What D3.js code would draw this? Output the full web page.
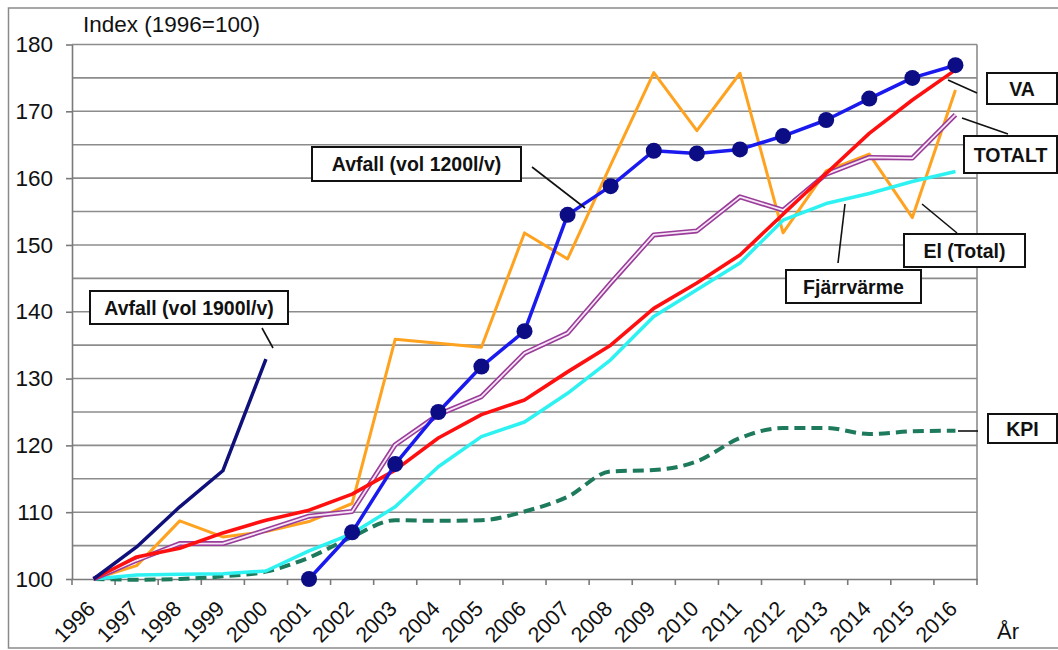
<!DOCTYPE html>
<html>
<head>
<meta charset="utf-8">
<script src="https://cdn.jsdelivr.net/npm/d3@7"></script>
<style>
  html, body { margin: 0; padding: 0; background: #fff; }
  svg { display: block; font-family: "Liberation Sans", Arial, sans-serif; }
</style>
</head>
<body>
<svg id="chart" width="1058" height="650"></svg>
<script>
// ---- data ----
const years = ["1996","1997","1998","1999","2000","2001","2002","2003","2004","2005","2006",
               "2007","2008","2009","2010","2011","2012","2013","2014","2015","2016"];
const yTicks = [100, 110, 120, 130, 140, 150, 160, 170, 180];

const avfall1900 = [100, 104.8, 110.8, 116.2, 132.9];
const avfall1200 = [null, null, null, null, null, 100, 107.0, 117.2, 125.0, 131.8, 137.1,
                    154.5, 158.8, 164.1, 163.7, 164.3, 166.3, 168.7, 171.9, 175.0, 176.9];
const elTotal    = [100, 102.0, 108.7, 106.3, 107.1, 108.6, 111.3, 135.9, 135.3, 134.7, 151.8,
                    147.9, 162.0, 175.8, 167.1, 175.7, 151.8, 161.1, 163.6, 154.1, 173.2];
const va         = [100, 103.3, 104.6, 106.9, 108.8, 110.3, 112.7, 116.3, 121.1, 124.6, 126.8,
                    131.0, 135.0, 140.5, 144.3, 148.5, 154.6, 160.7, 166.7, 171.7, 176.2];
const totalt     = [100, 102.8, 105.3, 105.3, 107.3, 109.4, 110.1, 120.1, 124.6, 127.3, 133.8,
                    136.8, 144.3, 151.5, 152.1, 157.2, 155.2, 160.6, 163.1, 163.0, 169.5];
const fjarrvarme = [100, 100.6, 100.7, 100.8, 101.2, 104.2, 106.8, 110.8, 116.8, 121.3, 123.5,
                    127.8, 132.8, 139.3, 143.3, 147.3, 153.7, 156.2, 157.7, 159.5, 161.0];
const kpi        = [100, 99.9, 100.0, 100.4, 101.1, 103.2, 106.3, 108.8, 108.7, 108.8, 110.1,
                    112.3, 116.1, 116.3, 117.6, 121.1, 122.6, 122.6, 121.7, 122.1, 122.2];

const yTitle = "Index (1996=100)";
const xTitle = "År";
const labelTexts = ["Avfall (vol 1900l/v)", "Avfall (vol 1200l/v)", "VA", "TOTALT", "El (Total)", "Fjärrvärme", "KPI"];

// ---- layout ----
const svg = d3.select("#chart");
const L = 72, R = 977, T = 44.5, B = 579;
const x = d3.scaleBand().domain(years).range([L, R]).padding(0);
const y = d3.scaleLinear().domain([100, 180]).range([B, T]);
const cx = yr => x(yr) + x.bandwidth() / 2;

// outer frame
svg.append("rect").attr("x", 8.5).attr("y", 8).attr("width", 1100).attr("height", 640)
  .attr("fill", "#fff").attr("stroke", "#8a8a8a").attr("stroke-width", 1.5);

// gridlines every 5
const grid = svg.append("g");
grid.selectAll("line").data(d3.range(105, 181, 5)).join("line")
  .attr("x1", L).attr("x2", R).attr("y1", d => y(d)).attr("y2", d => y(d))
  .attr("stroke", "#8c8c8c").attr("stroke-width", 1.6);
// right border of plot
svg.append("line").attr("x1", R).attr("x2", R).attr("y1", y(180)).attr("y2", y(100))
  .attr("stroke", "#8c8c8c").attr("stroke-width", 1.6);

// y axis
const yAxis = svg.append("g").attr("transform", `translate(${L},0)`)
  .call(d3.axisLeft(y).tickValues(yTicks).tickSize(6).tickSizeOuter(0).tickPadding(13));
yAxis.select(".domain").attr("stroke", "#7a7a7a").attr("stroke-width", 1.6);
yAxis.selectAll(".tick line").attr("stroke", "#7a7a7a").attr("stroke-width", 1.6);
yAxis.selectAll(".tick text").attr("font-size", 22.5).attr("fill", "#111")
  .attr("font-family", "Liberation Sans, Arial, sans-serif");

// x axis
const xAxis = svg.append("g").attr("transform", `translate(0,${B})`)
  .call(d3.axisBottom(x).tickSize(0).tickSizeOuter(0));
xAxis.select(".domain").attr("stroke", "#7a7a7a").attr("stroke-width", 1.6);
xAxis.selectAll(".tick text")
  .attr("font-size", 21.5).attr("fill", "#111").attr("font-family", "Liberation Sans, Arial, sans-serif")
  .attr("text-anchor", "end").attr("y", 0).attr("dy", 0)
  .attr("transform", "translate(3,31) rotate(-45)");
// boundary ticks
const bounds = years.map(d => x(d)).concat([R]);
xAxis.selectAll(".btick").data(bounds).join("line").attr("class", "btick")
  .attr("x1", d => d).attr("x2", d => d).attr("y1", 0).attr("y2", 6)
  .attr("stroke", "#7a7a7a").attr("stroke-width", 1.6);

// titles
svg.append("text").attr("x", 83).attr("y", 32).attr("font-size", 22.5).attr("fill", "#111").text(yTitle);
svg.append("text").attr("x", 997).attr("y", 639).attr("font-size", 22).attr("fill", "#111").text(xTitle);

// lines
const line = d3.line().defined(d => d.v != null).x(d => cx(d.yr)).y(d => y(d.v));
const smooth = d3.line().defined(d => d.v != null).x(d => cx(d.yr)).y(d => y(d.v)).curve(d3.curveMonotoneX);
const pts = arr => arr.map((v, i) => ({ yr: years[i], v }));
const g = svg.append("g").attr("fill", "none").attr("stroke-linejoin", "round");

g.append("path").attr("d", smooth(pts(kpi))).attr("stroke", "#1d7a5c").attr("stroke-width", 4)
  .attr("stroke-dasharray", "11,6");
g.append("path").attr("d", line(pts(elTotal))).attr("stroke", "#ffa21f").attr("stroke-width", 3);
g.append("path").attr("d", line(pts(fjarrvarme))).attr("stroke", "#2ef2f2").attr("stroke-width", 3.5);
g.append("path").attr("d", line(pts(totalt))).attr("stroke", "#9a3c9a").attr("stroke-width", 5);
g.append("path").attr("d", line(pts(totalt))).attr("stroke", "#f6e6f6").attr("stroke-width", 1.8);
g.append("path").attr("d", line(pts(va))).attr("stroke", "#ff1010").attr("stroke-width", 3.6);
g.append("path").attr("d", line(pts(avfall1900))).attr("stroke", "#10107a").attr("stroke-width", 3.5);
g.append("path").attr("d", line(pts(avfall1200))).attr("stroke", "#1a1aee").attr("stroke-width", 3.5);
svg.append("g").selectAll("circle").data(pts(avfall1200).filter(d => d.v != null)).join("circle")
  .attr("cx", d => cx(d.yr)).attr("cy", d => y(d.v)).attr("r", 8).attr("fill", "#0c0c84");

// annotation boxes (layout)
const boxes = [
  { t: 0, x: 90,  y: 291, w: 198, h: 33, lx1: 262, ly1: 328, lx2: 273, ly2: 348 },
  { t: 1, x: 312, y: 147, w: 209, h: 34, lx1: 532, ly1: 167, lx2: 585, ly2: 208 },
  { t: 2, x: 987, y: 73,  w: 70,  h: 31, lx1: 948, ly1: 80,  lx2: 977, ly2: 93 },
  { t: 3, x: 964, y: 136, w: 93,  h: 37, lx1: 962, ly1: 118, lx2: 1008, ly2: 134 },
  { t: 4, x: 904, y: 234, w: 121, h: 33, lx1: 922, ly1: 204, lx2: 957, ly2: 233 },
  { t: 5, x: 786, y: 270, w: 135, h: 33, lx1: 845, ly1: 204, lx2: 838, ly2: 263 },
  { t: 6, x: 988, y: 414, w: 69,  h: 29, lx1: 958, ly1: 431, lx2: 978, ly2: 431 }
];
const ann = svg.append("g");
ann.selectAll("line").data(boxes).join("line")
  .attr("x1", d => d.lx1).attr("y1", d => d.ly1).attr("x2", d => d.lx2).attr("y2", d => d.ly2)
  .attr("stroke", "#111").attr("stroke-width", 1.6);
const bg = ann.selectAll("g.box").data(boxes).join("g").attr("class", "box");
bg.append("rect").attr("x", d => d.x).attr("y", d => d.y).attr("width", d => d.w).attr("height", d => d.h)
  .attr("fill", "#fff").attr("stroke", "#111").attr("stroke-width", 2);
bg.append("text").attr("x", d => d.x + d.w / 2).attr("y", d => d.y + d.h / 2)
  .attr("dy", "0.36em").attr("text-anchor", "middle").attr("font-size", 19.5).attr("font-weight", "bold")
  .attr("fill", "#111").text(d => labelTexts[d.t]);
</script>
</body>
</html>
